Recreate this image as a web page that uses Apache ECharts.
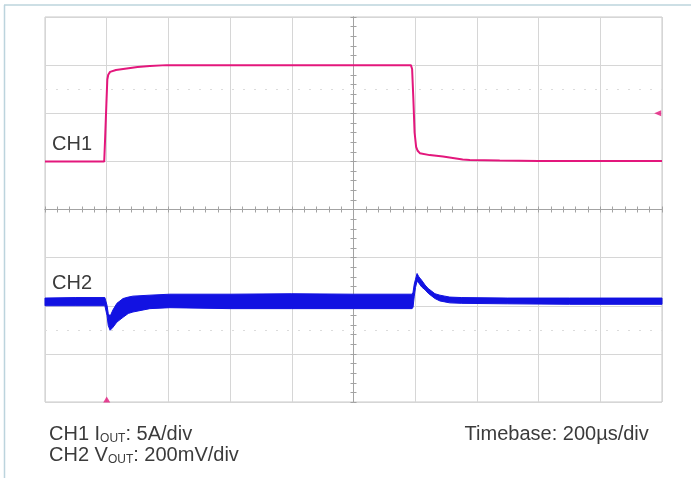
<!DOCTYPE html>
<html>
<head>
<meta charset="utf-8">
<script src="https://cdn.jsdelivr.net/npm/echarts@6/dist/echarts.min.js"></script>
<style>html,body{margin:0;padding:0;background:#fff}#c{width:691px;height:478px}</style>
</head>
<body>
<div id="c"></div>
<script>
// Time in µs (200 µs/div, screen centred on 0); vertical position in divisions (-4..4)
const ch1Time = [-1000, -808, -805, -801, -798, -795, -789, -770, -735, -700, -660, -606, 0, 186, 190, 194, 198, 203, 208, 215, 247, 290, 354, 377, 474, 600, 1000];
const ch1Div  = [1.0, 1.0, 1.5, 2.2, 2.7, 2.8, 2.86, 2.90, 2.93, 2.96, 2.98, 3.0, 3.0, 3.0, 2.92, 2.3, 1.6, 1.3, 1.22, 1.17, 1.13, 1.10, 1.04, 1.03, 1.02, 1.01, 1.01];

// CH2 is a noisy trace: its upper and lower envelope
const ch2Time  = [-1000, -900, -806, -799, -795, -789, -780, -767, -747, -730, -715, -660, -595, -400, -200, 0, 190, 193, 197, 201, 206, 212, 221, 232, 242, 254, 264, 280, 296, 312, 351, 500, 700, 1000];
const ch2Upper = [-1.84, -1.83, -1.83, -1.99, -2.16, -2.22, -2.09, -1.95, -1.85, -1.82, -1.80, -1.78, -1.76, -1.76, -1.75, -1.76, -1.76, -1.72, -1.55, -1.45, -1.33, -1.40, -1.47, -1.57, -1.64, -1.70, -1.75, -1.78, -1.80, -1.82, -1.83, -1.84, -1.84, -1.84];
const ch2Lower = [-2.00, -2.00, -2.00, -2.20, -2.41, -2.51, -2.45, -2.34, -2.24, -2.16, -2.13, -2.06, -2.04, -2.06, -2.06, -2.06, -2.06, -2.03, -1.80, -1.62, -1.49, -1.53, -1.61, -1.67, -1.74, -1.80, -1.85, -1.90, -1.92, -1.94, -1.95, -1.96, -1.97, -1.97];

const ch1RefMarker = [[986, 2.0]];
const triggerMarker = [[-800, -3.95]];
const ghostLevels = [2.5, -2.5];

const xTicks = { min: -1000, max: 1000, interval: 200 };
const yTicks = { min: -4, max: 4, interval: 1 };

const PINK = '#e3177c';
const BLUE = '#1212e2';
const TXT = '#3b3b3b';
const FONT = 'Liberation Sans, Arial, sans-serif';

const zip = (a, b) => a.map((v, i) => [v, b[i]]);

function xAxisDef(inside, grid) {
  return {
    type: 'value', min: xTicks.min, max: xTicks.max, interval: xTicks.interval, position: 'bottom',
    axisLine: { show: true, onZero: true, onZeroAxisIndex: 0, lineStyle: { color: '#a3a3a3', width: 1 } },
    axisTick: { show: true, inside: inside, length: 3, lineStyle: { color: '#a3a3a3' } },
    minorTick: { show: true, splitNumber: 5, length: 3, lineStyle: { color: '#a3a3a3' } },
    axisLabel: { show: false },
    splitLine: { show: grid, lineStyle: { color: '#d6d6d6', width: 1 } },
    minorSplitLine: { show: false }
  };
}
function yAxisDef(inside, grid) {
  return {
    type: 'value', min: yTicks.min, max: yTicks.max, interval: yTicks.interval, position: 'left',
    axisLine: { show: true, onZero: true, onZeroAxisIndex: 0, lineStyle: { color: '#a3a3a3', width: 1 } },
    axisTick: { show: true, inside: inside, length: 3, lineStyle: { color: '#a3a3a3' } },
    minorTick: { show: true, splitNumber: 5, length: 3, lineStyle: { color: '#a3a3a3' } },
    axisLabel: { show: false },
    splitLine: { show: grid, lineStyle: { color: '#d6d6d6', width: 1 } },
    minorSplitLine: { show: false }
  };
}

const chart = echarts.init(document.getElementById('c'), null, { renderer: 'canvas' });
chart.setOption({
  animation: false,
  backgroundColor: '#fff',
  grid: { left: 45, top: 17, width: 617, height: 385, show: true, borderColor: '#c9c9c9', borderWidth: 1, backgroundColor: 'transparent', containLabel: false, outerBoundsMode: 'none' },
  xAxis: [xAxisDef(false, true), xAxisDef(true, false)],
  yAxis: [yAxisDef(false, true), yAxisDef(true, false)],
  series: [
    {
      name: 'CH2', type: 'custom', xAxisIndex: 0, yAxisIndex: 0,
      data: ch2Time.map((t, i) => [t, ch2Upper[i], ch2Lower[i]]),
      encode: { x: 0, y: [1, 2] },
      renderItem: function (params, api) {
        if (params.dataIndex !== 0) return null;
        const pts = [];
        for (let i = 0; i < ch2Time.length; i++) pts.push(api.coord([ch2Time[i], ch2Upper[i]]));
        for (let i = ch2Time.length - 1; i >= 0; i--) pts.push(api.coord([ch2Time[i], ch2Lower[i]]));
        return { type: 'polygon', shape: { points: pts }, style: { fill: BLUE, stroke: BLUE, lineWidth: 1, lineJoin: 'round' } };
      },
      z: 3
    },
    {
      name: 'CH1', type: 'line', xAxisIndex: 0, yAxisIndex: 0,
      data: zip(ch1Time, ch1Div), symbol: 'none',
      lineStyle: { color: PINK, width: 2 }, z: 4,
      markLine: {
        silent: true, symbol: 'none', label: { show: false },
        lineStyle: { color: '#dcdcdc', type: [2, 9], width: 1 },
        data: ghostLevels.map(v => ({ yAxis: v }))
      }
    },
    {
      name: 'ref', type: 'scatter', data: ch1RefMarker, symbol: 'triangle', symbolSize: [6, 7],
      symbolRotate: 90, itemStyle: { color: PINK }, clip: false, z: 5
    },
    {
      name: 'trig', type: 'scatter', data: triggerMarker, symbol: 'triangle', symbolSize: [7, 6],
      itemStyle: { color: PINK }, clip: false, z: 5
    }
  ],
  graphic: [
    { type: 'line', shape: { x1: 4, y1: 5, x2: 691, y2: 5 }, style: { stroke: '#bcd4dd', lineWidth: 1.5 } },
    { type: 'line', shape: { x1: 4.5, y1: 5, x2: 4.5, y2: 478 }, style: { stroke: '#bcd4dd', lineWidth: 1.5 } },
    { type: 'text', x: 52, y: 144, style: { text: 'CH1', font: '20px ' + FONT, fill: TXT, verticalAlign: 'middle' }, z: 10 },
    { type: 'text', x: 52, y: 283, style: { text: 'CH2', font: '20px ' + FONT, fill: TXT, verticalAlign: 'middle' }, z: 10 },
    {
      type: 'text', x: 49, y: 424.4, z: 10,
      style: {
        text: '{a|CH1 I}{s|OUT}{a|: 5A/div}', verticalAlign: 'top', fill: TXT,
        rich: {
          a: { fontSize: 20, fontFamily: FONT, lineHeight: 20, fill: TXT, color: TXT },
          s: { fontSize: 12, fontFamily: FONT, lineHeight: 8, verticalAlign: 'bottom', fill: TXT, color: TXT }
        }
      }
    },
    {
      type: 'text', x: 49, y: 445.6, z: 10,
      style: {
        text: '{a|CH2 V}{s|OUT}{a|: 200mV/div}', verticalAlign: 'top', fill: TXT,
        rich: {
          a: { fontSize: 20, fontFamily: FONT, lineHeight: 20, fill: TXT, color: TXT },
          s: { fontSize: 12, fontFamily: FONT, lineHeight: 8, verticalAlign: 'bottom', fill: TXT, color: TXT }
        }
      }
    },
    { type: 'text', x: 464.6, y: 434.3, style: { text: 'Timebase: 200µs/div', font: '20px ' + FONT, fill: TXT, verticalAlign: 'middle' }, z: 10 }
  ]
});
</script>
</body>
</html>
